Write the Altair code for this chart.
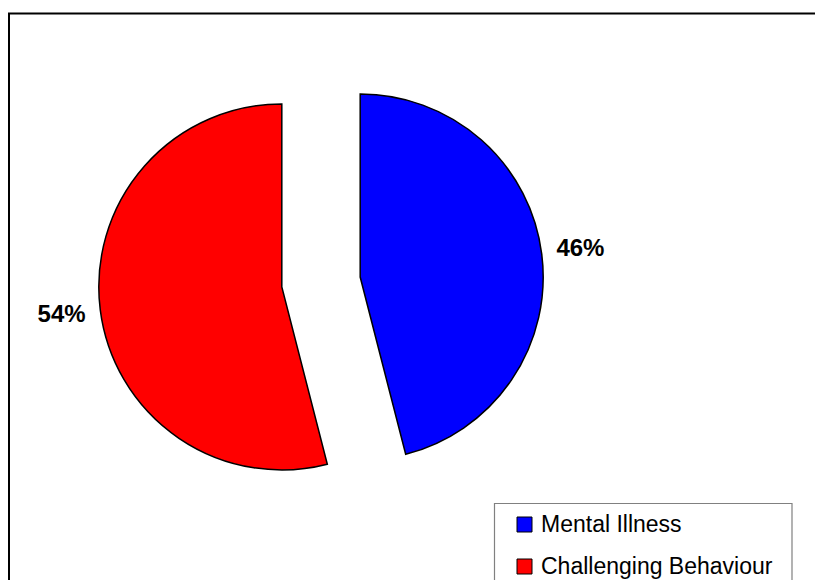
import altair as alt
import pandas as pd

# Data
categories = ["Mental Illness", "Challenging Behaviour"]
shares = [46, 54]
colors = ["#0000FF", "#FF0000"]

# Layout constants (pixels)
W, H = 815, 580
CX, CY = 321, 282          # pie centre
R = 183                    # pie radius
EXPLODE = 39.5             # slice offset along its bisector
LABEL_R = 222              # distance of percentage labels from slice centre
FONT = "Liberation Sans"

df = pd.DataFrame({
    "category": categories,
    "share": shares,
    "order": list(range(len(categories))),
})

color = alt.Color(
    "category:N",
    scale=alt.Scale(domain=categories, range=colors),
    legend=None,
)

pie = (
    alt.Chart(df)
    .transform_joinaggregate(total="sum(share)")
    .transform_window(cum="sum(share)", sort=[alt.SortField("order")], frame=[None, 0])
    .transform_calculate(t0="2*PI*(datum.cum - datum.share)/datum.total")
    .transform_calculate(t1="2*PI*datum.cum/datum.total")
    .transform_calculate(mid="(datum.t0 + datum.t1)/2")
    .transform_calculate(px=f"{CX} + {EXPLODE}*sin(datum.mid)")
    .transform_calculate(py=f"{CY} - {EXPLODE}*cos(datum.mid)")
    .transform_calculate(lx=f"datum.px + {LABEL_R}*sin(datum.mid)")
    .transform_calculate(ly=f"datum.py - {LABEL_R}*cos(datum.mid)")
    .transform_calculate(pct="format(datum.share/datum.total, '.0%')")
)

slices = pie.mark_arc(outerRadius=R, stroke="black", strokeWidth=1.5).encode(
    theta=alt.Theta("t0:Q", scale=None),
    theta2="t1:Q",
    x=alt.X("px:Q", scale=None, axis=None),
    y=alt.Y("py:Q", scale=None, axis=None),
    color=color,
)

labels = pie.mark_text(
    font=FONT, fontSize=24, fontWeight="bold", color="black",
    align="center", baseline="middle",
).encode(
    x=alt.X("lx:Q", scale=None, axis=None),
    y=alt.Y("ly:Q", scale=None, axis=None),
    text="pct:N",
)

# Outer chart frame
frame = alt.Chart(pd.DataFrame({"k": [0]})).mark_rect(
    fill=None, stroke="black", strokeWidth=2
).encode(
    x=alt.value(9), x2=alt.value(W + 30),
    y=alt.value(13.5), y2=alt.value(H + 30),
)

# Legend box and entries
legend_box = alt.Chart(pd.DataFrame({"k": [0]})).mark_rect(
    fill="white", stroke="#808080", strokeWidth=1.2
).encode(
    x=alt.value(494.5), x2=alt.value(792),
    y=alt.value(503.5), y2=alt.value(H + 30),
)

legend_rows = alt.Chart(df).transform_calculate(
    ry="524.5 + 42*datum.order"
)

legend_symbols = legend_rows.mark_square(
    size=225, stroke="black", strokeWidth=1, opacity=1
).encode(
    x=alt.value(524.5),
    y=alt.Y("ry:Q", scale=None, axis=None),
    color=color,
)

legend_text = legend_rows.mark_text(
    font=FONT, fontSize=23, align="left", baseline="middle", color="black"
).encode(
    x=alt.value(541),
    y=alt.Y("ry:Q", scale=None, axis=None),
    text="category:N",
)

chart = (
    alt.layer(frame, slices, labels, legend_box, legend_symbols, legend_text)
    .properties(
        width=W, height=H,
        autosize=alt.AutoSizeParams(type="none"),
        padding=0,
        background="white",
    )
    .configure_view(stroke=None)
)

chart.save("out.html", embed_options={"renderer": "svg", "actions": False})
